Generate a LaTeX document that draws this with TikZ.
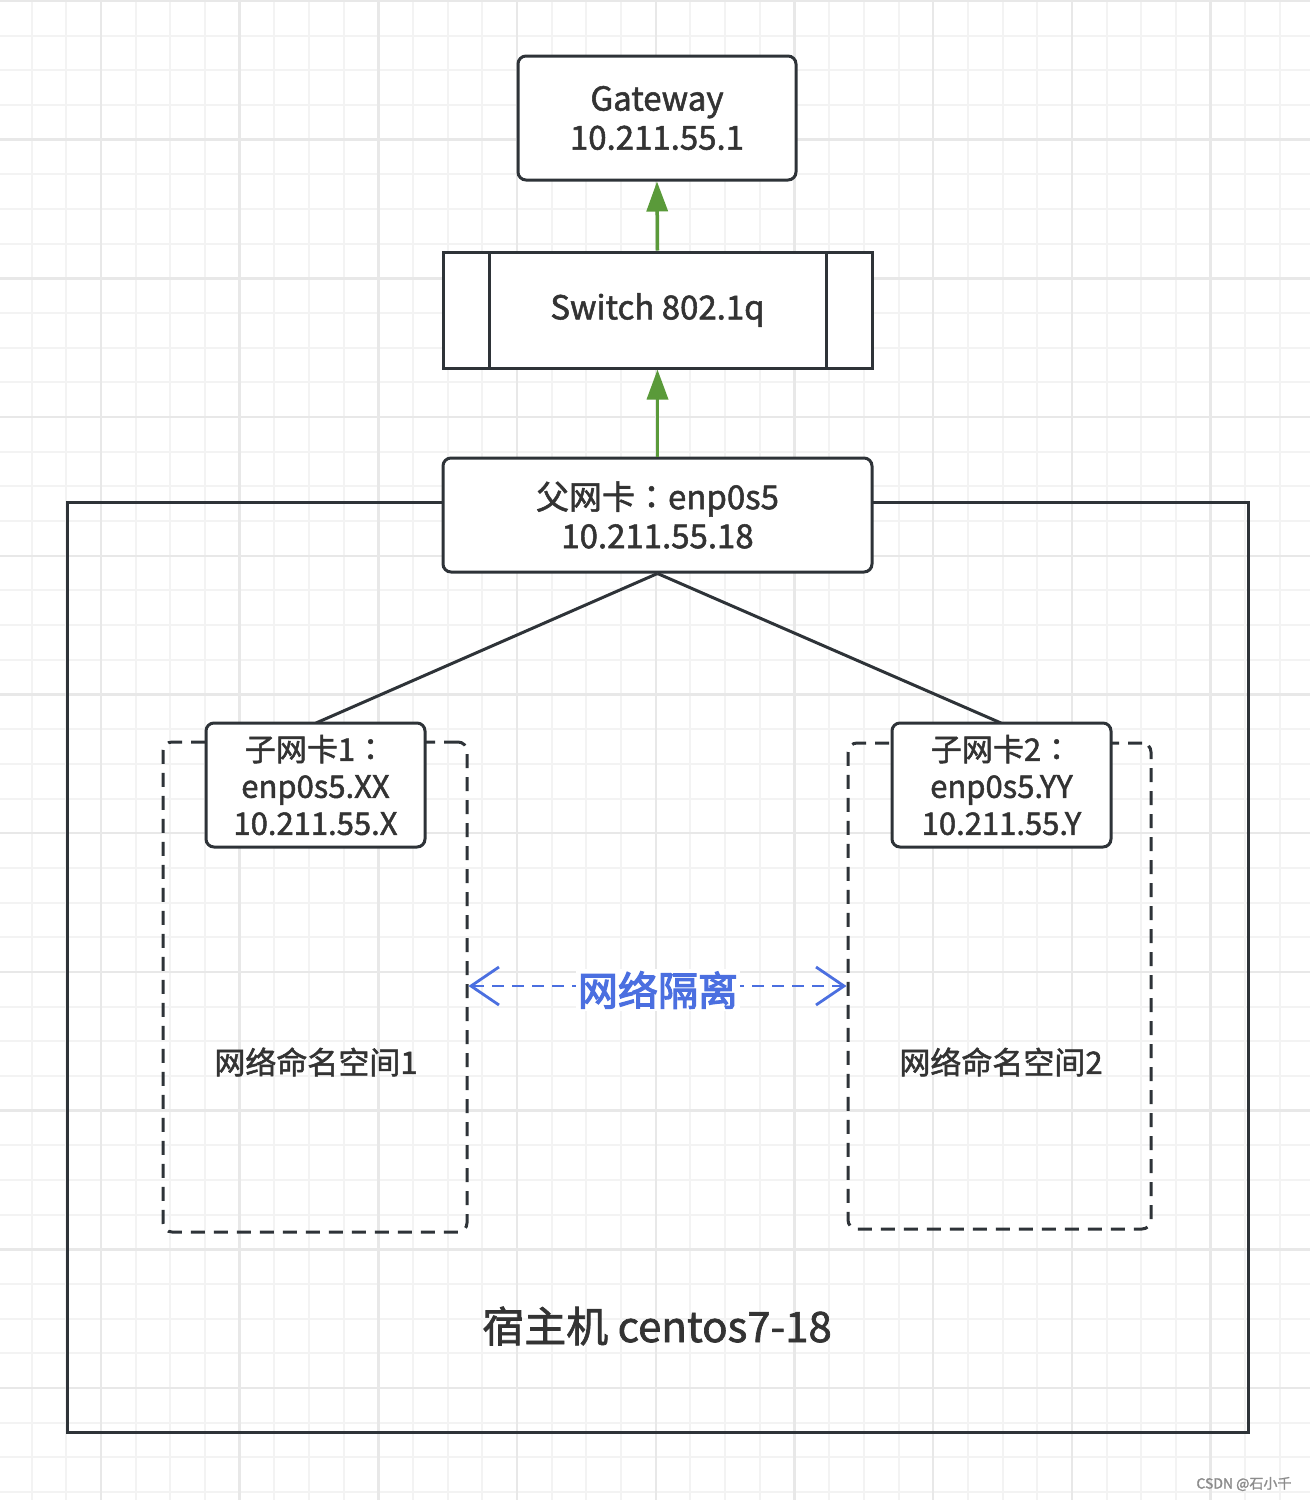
\documentclass[tikz,border=0pt]{standalone}
\usepackage{fontspec}
\setmainfont[FakeBold=1.6]{Noto Sans CJK SC}
\newfontfamily\isofont[FakeBold=3]{Noto Sans CJK SC}
\newfontfamily\colfont[FakeBold=1.6]{Noto Sans CJK TC}
\newcommand{\fwcolon}{{\colfont ：}}
\usetikzlibrary{arrows.meta}
\definecolor{ink}{HTML}{2E3338}
\definecolor{txt}{HTML}{333333}
\definecolor{grn}{HTML}{5A9A3A}
\definecolor{blu}{HTML}{4B6FE0}
\definecolor{gminor}{HTML}{F3F3F3}
\definecolor{gmajor}{HTML}{E8E8E8}
\tikzset{
  box/.style={draw=ink, line width=3pt, rounded corners=8pt, fill=white, text=txt, align=center, inner sep=0pt},
  swbox/.style={draw=ink, line width=3pt, fill=white, text=txt, align=center, inner sep=0pt},
  nsbox/.style={draw=ink, line width=3pt, rounded corners=9pt, dash pattern=on 14pt off 9pt, inner sep=0pt},
  link/.style={draw=ink, line width=3pt},
  uparrow/.style={draw=grn, line width=3.5pt, -{Triangle[width=21pt,length=30pt]}},
  iso/.style={draw=blu, line width=2.8pt, dash pattern=on 12pt off 8pt, {Straight Barb[length=28pt,width=38pt,line width=2.8pt]}-{Straight Barb[length=28pt,width=38pt,line width=2.8pt]}},
  big/.style={font=\fontsize{33}{39}\selectfont},
  mid/.style={font=\fontsize{31}{37}\selectfont},
}
\begin{document}
\begin{tikzpicture}[x=1pt,y=-1pt]
\useasboundingbox (0,0) rectangle (1310,1500);
\fill[white] (0,0) rectangle (1310,1500);
% grid
\foreach \k in {-3,...,35} {
  \draw[gminor, line width=2pt] ({101+34.675*\k},0) -- ({101+34.675*\k},1500);
}
\foreach \k in {0,...,44} {
  \draw[gminor, line width=2pt] (0,{1+34.675*\k}) -- (1310,{1+34.675*\k});
}
\foreach \k in {-1,...,9} {
  \draw[gmajor, line width=2.5pt] ({101+138.7*\k},0) -- ({101+138.7*\k},1500);
}
\foreach \k in {0,...,11} {
  \draw[gmajor, line width=2.5pt] (0,{1+138.7*\k}) -- (1310,{1+138.7*\k});
}
% host
\node[draw=ink, line width=3pt, minimum width=1181pt, minimum height=930pt, inner sep=0pt] (host) at (657.5,967) {};
\node[text=txt, font=\fontsize{42}{48}\selectfont] (hostlbl) at (657,1326) {宿主机 centos7-18};
% namespaces
\node[nsbox, minimum width=304pt, minimum height=490pt] (ns1) at (315,987) {};
\node[nsbox, minimum width=303pt, minimum height=486pt] (ns2) at (999.5,986) {};
\node[text=txt, mid] (ns1lbl) at (316,1062) {网络命名空间1};
\node[text=txt, mid] (ns2lbl) at (1001,1062) {网络命名空间2};
% boxes
\node[box, big, minimum width=278pt, minimum height=124pt] (gw) at (657,118) {Gateway\\10.211.55.1};
\node[swbox, big, minimum width=429pt, minimum height=116pt] (sw) at (657.5,310) {Switch 802.1q};
\draw[ink, line width=3pt] (489,252) -- (489,368);
\draw[ink, line width=3pt] (826,252) -- (826,368);
\node[box, big, minimum width=429pt, minimum height=114pt] (parent) at (657.5,515) {父网卡\fwcolon enp0s5\\10.211.55.18};
\draw[link] (parent.south) -- (316,723) coordinate (c1top);
\draw[link] (parent.south) -- (1001,723) coordinate (c2top);
\node[box, mid, minimum width=219pt, minimum height=124pt] (c1) at (315.5,785) {子网卡1\fwcolon\\enp0s5.XX\\10.211.55.X};
\node[box, mid, minimum width=219pt, minimum height=124pt] (c2) at (1001.5,785) {子网卡2\fwcolon\\enp0s5.YY\\10.211.55.Y};
% arrows
\draw[uparrow] (sw.north) -- (gw.south);
\draw[uparrow] (parent.north) -- (sw.south);
\draw[iso] (ns1.east |- 0,986) -- (ns2.west |- 0,986);
\node[fill=white, text=blu, font=\isofont\fontsize{40}{48}\selectfont, inner sep=2pt] (isolbl) at (658,990) {网络隔离};
% watermark
\node[text=black!45, font=\fontsize{14}{16}\selectfont, anchor=east] (wm) at (1295,1484) {CSDN @石小千};
\end{tikzpicture}
\end{document}
